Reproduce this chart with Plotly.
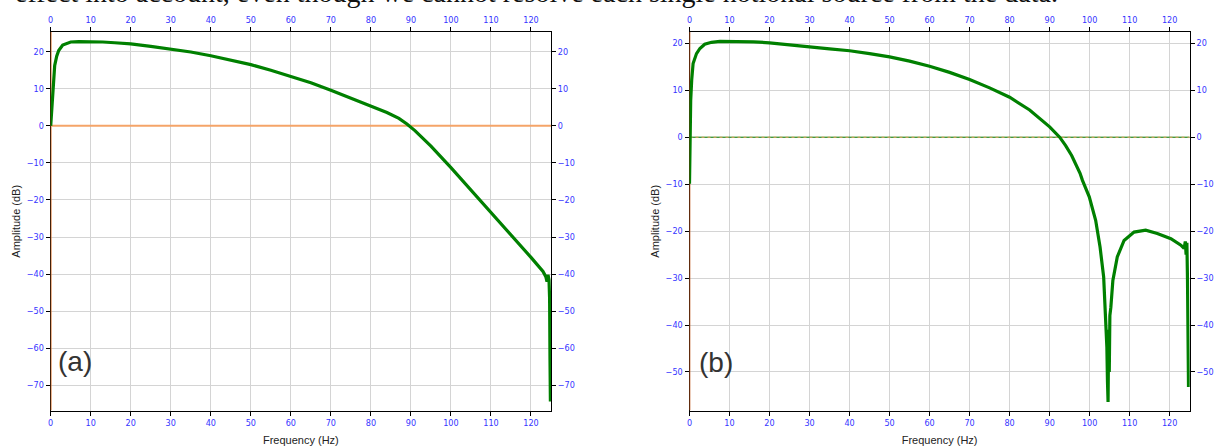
import plotly.graph_objects as go

# ---------------- data ----------------
freq_a = [0, 0.25, 0.5, 0.7, 1.0, 1.5, 2, 3, 4, 5, 7, 10, 13, 16, 20, 25, 30, 35, 40, 45,
          50, 55, 60, 65, 70, 75, 80, 84, 87, 89, 91, 93, 95, 100, 105, 110, 115, 120, 123,
          123.7, 124.0, 124.25, 124.5, 124.65, 124.75, 124.85]
amp_a = [0, 4.2, 9.6, 13.2, 16.3, 18.8, 20.3, 21.8, 22.3, 22.6, 22.7, 22.7, 22.6, 22.4, 22.1,
         21.4, 20.7, 19.9, 18.9, 17.8, 16.5, 15.0, 13.4, 11.6, 9.6, 7.4, 5.3, 3.6, 2.0, 0.5,
         -1.3, -3.3, -5.5, -11.3, -17.3, -23.3, -29.5, -35.5, -39.3, -40.7, -42.0, -40.2,
         -41.6, -46.5, -63.2, -74.4]

freq_b = [0, 0.1, 0.3, 0.55, 0.9, 1.75, 2.6, 3.8, 5.5, 7.6, 10, 16, 20, 25, 30, 35, 40, 45,
          50, 55, 60, 65, 70, 75, 80, 85, 90, 92.5, 94, 95.5, 96.7, 97.6, 98.2, 99.9, 101.5,
          102.6, 103.5, 104.0, 104.3, 104.45, 104.6, 104.75, 104.9, 105.05, 105.3, 105.8,
          106.9, 108.6, 111.1, 114.0, 116.9, 120.3, 122.8, 123.6, 123.9, 124.1, 124.3,
          124.45, 124.55, 124.7]
amp_b = [-9.9, 0.8, 7.9, 12.2, 15.7, 17.8, 18.9, 19.8, 20.2, 20.4, 20.4, 20.3, 20.1, 19.6,
         19.25, 18.8, 18.4, 17.8, 17.1, 16.2, 15.1, 13.8, 12.3, 10.5, 8.5, 5.8, 2.2, 0.0, -1.8,
         -3.9, -5.9, -7.7, -9.2, -12.7, -17.7, -23.4, -29.8, -37.6, -44.7, -52.0, -56.4,
         -41.0, -50.0, -38.0, -36.2, -30.5, -25.5, -22.0, -20.2, -19.8, -20.5, -21.6, -23.0,
         -23.7, -22.2, -25.0, -22.5, -30.5, -44.7, -53.2]

x_ticks = list(range(0, 121, 10))
a_y_ticks = list(range(-70, 21, 10))
b_y_ticks = list(range(-50, 21, 10))

x_range = [0, 125]
a_y_range = [-76.8, 25.3]
b_y_range = [-58.2, 22.4]

panel_labels = ["(a)", "(b)"]
x_title = "Frequency (Hz)"
y_title = "Amplitude (dB)"
caption = ("effect into account, even though we cannot resolve each single "
           "notional source from the data.")

# ---------------- style ----------------
W, H = 1214, 448
GREEN = "#008000"
TICK_FONT = dict(family="Liberation Sans Narrow, DejaVu Sans Condensed, Liberation Sans, Arial",
                 size=9, color="#3535ff")
TITLE_FONT = dict(family="Liberation Sans, Arial", size=11, color="#222222")
GRID = "#d4d4d4"

dom_a = [50.7 / W, 551.0 / W]
dom_b = [689.5 / W, 1189.7 / W]
dom_y = [1 - 410.5 / H, 1 - 32.0 / H]

fig = go.Figure()

def panel(xa, ya, xa2, ya2, amp_x, amp_y, yrng, zero_style, vcolor):
    # vertical line along x = 0
    fig.add_trace(go.Scatter(x=[0, 0], y=yrng, mode="lines",
                             line=dict(color=vcolor, width=1.6),
                             xaxis=xa, yaxis=ya, showlegend=False, hoverinfo="skip",
                             cliponaxis=False))
    # zero line(s)
    for st in zero_style:
        fig.add_trace(go.Scatter(x=x_range, y=[0, 0], mode="lines", line=st,
                                 xaxis=xa, yaxis=ya, showlegend=False, hoverinfo="skip"))
    # curve on overlay axes (drawn on top)
    fig.add_trace(go.Scatter(x=amp_x, y=amp_y, mode="lines",
                             line=dict(color=GREEN, width=3.2),
                             xaxis=xa2, yaxis=ya2, showlegend=False,
                             cliponaxis=False))

panel("x", "y", "x3", "y3", freq_a, amp_a, a_y_range,
      [dict(color="#f5a468", width=2)], "#d86a20")
panel("x2", "y2", "x4", "y4", freq_b, amp_b, b_y_range,
      [dict(color=GREEN, width=1), dict(color="#f5a468", width=1, dash="3px,3px")],
      "#c0561a")

common_x = dict(range=x_range, tickvals=x_ticks, ticks="outside", ticklen=4,
                tickcolor="#000", tickfont=TICK_FONT, zeroline=False, automargin=False,
                showline=True, linecolor="#000", linewidth=1)
common_y = dict(ticks="outside", ticklen=4, tickcolor="#000", tickfont=TICK_FONT,
                zeroline=False, showline=True, linecolor="#000", linewidth=1,
                automargin=False)

layout = dict(
    template="none",
    width=W, height=H, autosize=False,
    margin=dict(l=0, r=0, t=0, b=0, pad=0),
    paper_bgcolor="white", plot_bgcolor="white",
    showlegend=False,
    xaxis=dict(domain=dom_a, anchor="y", showgrid=True, gridcolor=GRID, gridwidth=1,
               title=dict(text=x_title, font=TITLE_FONT, standoff=9), layer="below traces",
               **common_x),
    yaxis=dict(domain=dom_y, anchor="x", range=a_y_range, tickvals=a_y_ticks,
               showgrid=True, gridcolor=GRID, gridwidth=1, layer="below traces",
               title=dict(text=y_title, font=TITLE_FONT, standoff=3), **common_y),
    xaxis3=dict(overlaying="x", anchor="y", side="top", showgrid=False, **common_x),
    yaxis3=dict(overlaying="y", anchor="x", side="right", range=a_y_range,
                tickvals=a_y_ticks, showgrid=False, **common_y),
    xaxis2=dict(domain=dom_b, anchor="y2", showgrid=True, gridcolor=GRID, gridwidth=1,
                title=dict(text=x_title, font=TITLE_FONT, standoff=9), layer="below traces",
                **common_x),
    yaxis2=dict(domain=dom_y, anchor="x2", range=b_y_range, tickvals=b_y_ticks,
                showgrid=True, gridcolor=GRID, gridwidth=1, layer="below traces",
                title=dict(text=y_title, font=TITLE_FONT, standoff=3), **common_y),
    xaxis4=dict(overlaying="x2", anchor="y2", side="top", showgrid=False, **common_x),
    yaxis4=dict(overlaying="y2", anchor="x2", side="right", range=b_y_range,
                tickvals=b_y_ticks, showgrid=False, **common_y),
)
fig.update_layout(**layout)

# panel letters
fig.add_annotation(x=1.3, y=-63.7, xref="x", yref="y", text=panel_labels[0],
                   showarrow=False, xanchor="left", yanchor="middle",
                   font=dict(family="Liberation Sans, Arial", size=28, color="#333333"))
fig.add_annotation(x=1.9, y=-48.0, xref="x2", yref="y2", text=panel_labels[1],
                   showarrow=False, xanchor="left", yanchor="middle",
                   font=dict(family="Liberation Sans, Arial", size=28, color="#333333"))

# cropped caption text at the very top
fig.add_annotation(x=13 / W, y=1 - 10 / H, xref="paper", yref="paper", text=caption,
                   showarrow=False, xanchor="left", yanchor="bottom",
                   font=dict(family="Liberation Serif, Times New Roman", size=28,
                             color="#111111"))

fig.write_html("out.html", config={"displayModeBar": False},
               post_script="document.body.style.margin='0';document.body.style.overflow='hidden';")
